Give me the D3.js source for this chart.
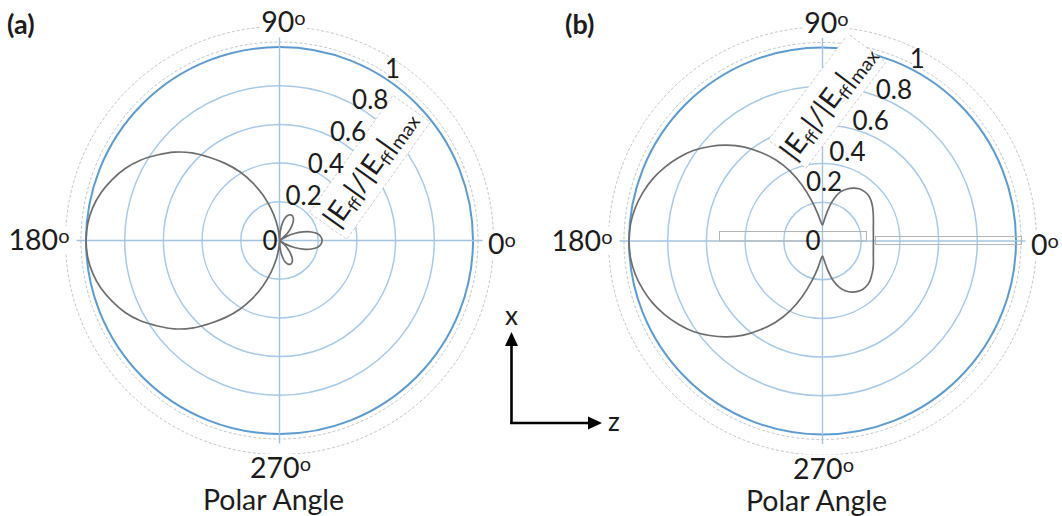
<!DOCTYPE html>
<html><head><meta charset="utf-8">
<script src="https://cdn.jsdelivr.net/npm/d3@7"></script>
<style>
body{margin:0;background:#fff}
svg{display:block}
text{font-family:Lato,"Open Sans",sans-serif;fill:#1c1c1c}
</style>
</head><body>
<svg id="chart" width="1062" height="516"></svg>
<script>
// ---- data ----
const angles = [0,5,10,15,20,25,30,35,40,45,50,55,60,65,70,75,80,85,
  90,95,100,105,110,115,120,125,130,135,140,145,150,155,160,165,170,175,
  180,185,190,195,200,205,210,215,220,225,230,235,240,245,250,255,260,265,
  270,275,280,285,290,295,300,305,310,315,320,325,330,335,340,345,350,355];
const fieldA = [0.22,0.215,0.20,0.17,0.13,0.085,0.04,0.0,0.035,0.07,0.10,0.125,0.14,0.145,0.14,0.125,0.095,0.05,
  0.0,0.04,0.10,0.17,0.25,0.33,0.41,0.485,0.56,0.64,0.71,0.77,0.83,0.88,0.92,0.955,0.98,0.995,
  1.0,0.995,0.98,0.955,0.92,0.88,0.83,0.77,0.71,0.64,0.56,0.485,0.41,0.33,0.25,0.17,0.10,0.04,
  0.0,0.045,0.085,0.115,0.13,0.135,0.13,0.115,0.09,0.06,0.03,0.0,0.04,0.085,0.13,0.17,0.20,0.215];
const fieldB = [0.263,0.264,0.267,0.272,0.28,0.29,0.302,0.315,0.327,0.335,0.335,0.33,0.315,0.295,0.27,0.225,0.165,0.11,
  0.083,0.10,0.145,0.215,0.305,0.40,0.485,0.56,0.635,0.70,0.76,0.815,0.86,0.90,0.935,0.962,0.983,0.996,
  1.0,0.996,0.983,0.962,0.935,0.90,0.86,0.815,0.76,0.70,0.635,0.56,0.485,0.40,0.305,0.215,0.145,0.095,
  0.078,0.10,0.15,0.21,0.255,0.285,0.305,0.318,0.325,0.325,0.32,0.31,0.30,0.29,0.28,0.272,0.267,0.264];
const ringTicks = [0.2,0.4,0.6,0.8,1];
const tickValues = [0,0.2,0.4,0.6,0.8,1];
const tickLabels = ["0","0.2","0.4","0.6","0.8","1"];
const angleTicks = [0,90,180,270];
const angleLabels = ["0","90","180","270"];
const panelTags = ["(a)","(b)"];
const angularTitle = "Polar Angle";

// ---- layout ----
const R = 193.5;
const panels = [
  {cx:279.5, cy:240.5, data:fieldA, tag:panelTags[0], tagX:7,
   lblAng:55, lblS:12, lblT:-6, ttlAng:54.5, box:[40,184,8,54], ttl:[111,31], rects:false},
  {cx:822.5, cy:241, data:fieldB, tag:panelTags[1], tagX:565,
   lblAng:53, lblS:9, lblT:-34, ttlAng:53, box:[48,181,-104,-57], ttl:[114,-80], rects:true}
];

const svg = d3.select("#chart");
svg.append("rect").attr("width",1062).attr("height",516).attr("fill","#fff");
const r = d3.scaleLinear().domain([0,1]).range([0,R]);
const toRad = d => d*Math.PI/180;

panels.forEach(p => {
  const g = svg.append("g").attr("transform",`translate(${p.cx},${p.cy})`);

  // outer dashed frame circles
  [198.5, 214].forEach(rr => g.append("circle").attr("r",rr).attr("fill","none")
    .attr("stroke","#bdbdbd").attr("stroke-width",0.9).attr("stroke-dasharray","3,2"));

  // rings
  g.selectAll("circle.ring").data(ringTicks).enter().append("circle")
    .attr("class","ring").attr("r",d=>r(d)).attr("fill","none")
    .attr("stroke",d=>d===1?"#5b9bd0":"#a8cae6")
    .attr("stroke-width",d=>d===1?2:1.5);

  // axis lines
  const ext = 203;
  g.append("line").attr("x1",-ext).attr("x2",ext).attr("y1",0).attr("y2",0)
    .attr("stroke","#a3c4de").attr("stroke-width",1.4);
  g.append("line").attr("y1",-ext).attr("y2",ext).attr("x1",0).attr("x2",0)
    .attr("stroke","#a3c4de").attr("stroke-width",1.4);

  if (p.rects) {
    g.append("rect").attr("x",-103).attr("y",-9.5).attr("width",147).attr("height",9.5)
      .attr("fill","none").attr("stroke","#b5b5b5").attr("stroke-width",1);
    g.append("rect").attr("x",53).attr("y",-4.5).attr("width",146).attr("height",8)
      .attr("fill","none").attr("stroke","#b5b5b5").attr("stroke-width",1);
  }

  // title box along radial axis
  const ta = toRad(p.ttlAng);
  const ux = Math.cos(ta), uy = -Math.sin(ta), nx = Math.sin(ta), ny = Math.cos(ta);
  const [s0,s1,t0,t1] = p.box;
  const bx = (s0+s1)/2*ux + (t0+t1)/2*nx, by = (s0+s1)/2*uy + (t0+t1)/2*ny;
  g.append("rect").attr("transform",`translate(${bx},${by}) rotate(${-p.ttlAng})`)
    .attr("x",-(s1-s0)/2).attr("y",-(t1-t0)/2).attr("width",s1-s0).attr("height",t1-t0)
    .attr("fill","#fff").attr("stroke","#cdcdcd").attr("stroke-width",0.9).attr("stroke-dasharray","3,2");
  const tx = p.ttl[0]*ux + p.ttl[1]*nx, ty = p.ttl[0]*uy + p.ttl[1]*ny;
  const title = g.append("text").attr("transform",`translate(${tx},${ty}) rotate(${-p.ttlAng})`)
    .attr("text-anchor","middle").attr("y",10).attr("font-size",28)
    .attr("textLength",136).attr("lengthAdjust","spacingAndGlyphs");
  title.append("tspan").text("|E");
  title.append("tspan").attr("font-size",17).attr("dy",5).text("ff");
  title.append("tspan").attr("dy",-5).text("|/|E");
  title.append("tspan").attr("font-size",17).attr("dy",5).text("ff");
  title.append("tspan").attr("dy",-5).text("|");
  title.append("tspan").attr("font-size",19).attr("dy",5).text("max");

  // radial tick labels
  const la = toRad(p.lblAng);
  const lux = Math.cos(la), luy = -Math.sin(la), lnx = Math.sin(la), lny = Math.cos(la);
  g.selectAll("text.rt").data(tickValues).enter().append("text").attr("class","rt")
    .attr("font-size",26)
    .attr("text-anchor",d=>d===0?"end":"middle")
    .attr("x",d=>d===0?-2:(r(d)+p.lblS)*lux + p.lblT*lnx)
    .attr("y",d=>d===0?9:(r(d)+p.lblS)*luy + p.lblT*lny + 9)
    .text((d,i)=>tickLabels[i]);

  // field pattern
  const pts = angles.map((a,i)=>({a, v:p.data[i]}));
  const line = d3.lineRadial()
    .angle(d => Math.PI/2 - toRad(d.a))
    .radius(d => r(d.v))
    .curve(d3.curveCatmullRomClosed.alpha(0.5));
  g.append("path").attr("d", line(pts)).attr("fill","none")
    .attr("stroke","#6d6d6d").attr("stroke-width",1.7);

  // angular labels (with white backing)
  const pos = {
    0:   {x:208.5, y:13.5, anchor:"start"},
    90:  {x:4, y:-208.5, anchor:"middle"},
    180: {x:-210, y:9.5, anchor:"end"},
    270: {x:1, y:237.5, anchor:"middle"}
  };
  angleTicks.forEach((a,i) => {
    const t = g.append("text").attr("x",pos[a].x).attr("y",pos[a].y)
      .attr("text-anchor",pos[a].anchor).attr("font-size",28.5);
    t.append("tspan").text(angleLabels[i]);
    t.append("tspan").attr("font-size",20).attr("dy",-7).text("o");
    const bb = t.node().getBBox();
    g.insert("rect", function(){ return t.node(); })
      .attr("x",bb.x-1).attr("y",bb.y+4).attr("width",bb.width+2).attr("height",bb.height-6)
      .attr("fill","#fff");
  });

  g.append("text").attr("x",-6).attr("y",269.5).attr("text-anchor","middle")
    .attr("font-size",28.5).text(angularTitle);

  svg.append("text").attr("x",p.tagX).attr("y",34).attr("font-size",27)
    .attr("font-weight","bold").text(p.tag);
});

// coordinate arrows
const ax = svg.append("g");
ax.append("line").attr("x1",511.5).attr("y1",424).attr("x2",511.5).attr("y2",344)
  .attr("stroke","#000").attr("stroke-width",2.6);
ax.append("line").attr("x1",510.2).attr("y1",423).attr("x2",590).attr("y2",423)
  .attr("stroke","#000").attr("stroke-width",2.6);
ax.append("path").attr("d","M511.5,332 L505,346 L518,346 Z").attr("fill","#000");
ax.append("path").attr("d","M602,423 L588,416.5 L588,429.5 Z").attr("fill","#000");
ax.append("text").attr("x",511.5).attr("y",325).attr("text-anchor","middle").attr("font-size",26).text("x");
ax.append("text").attr("x",614).attr("y",431).attr("text-anchor","middle").attr("font-size",26).text("z");
</script>
</body></html>
